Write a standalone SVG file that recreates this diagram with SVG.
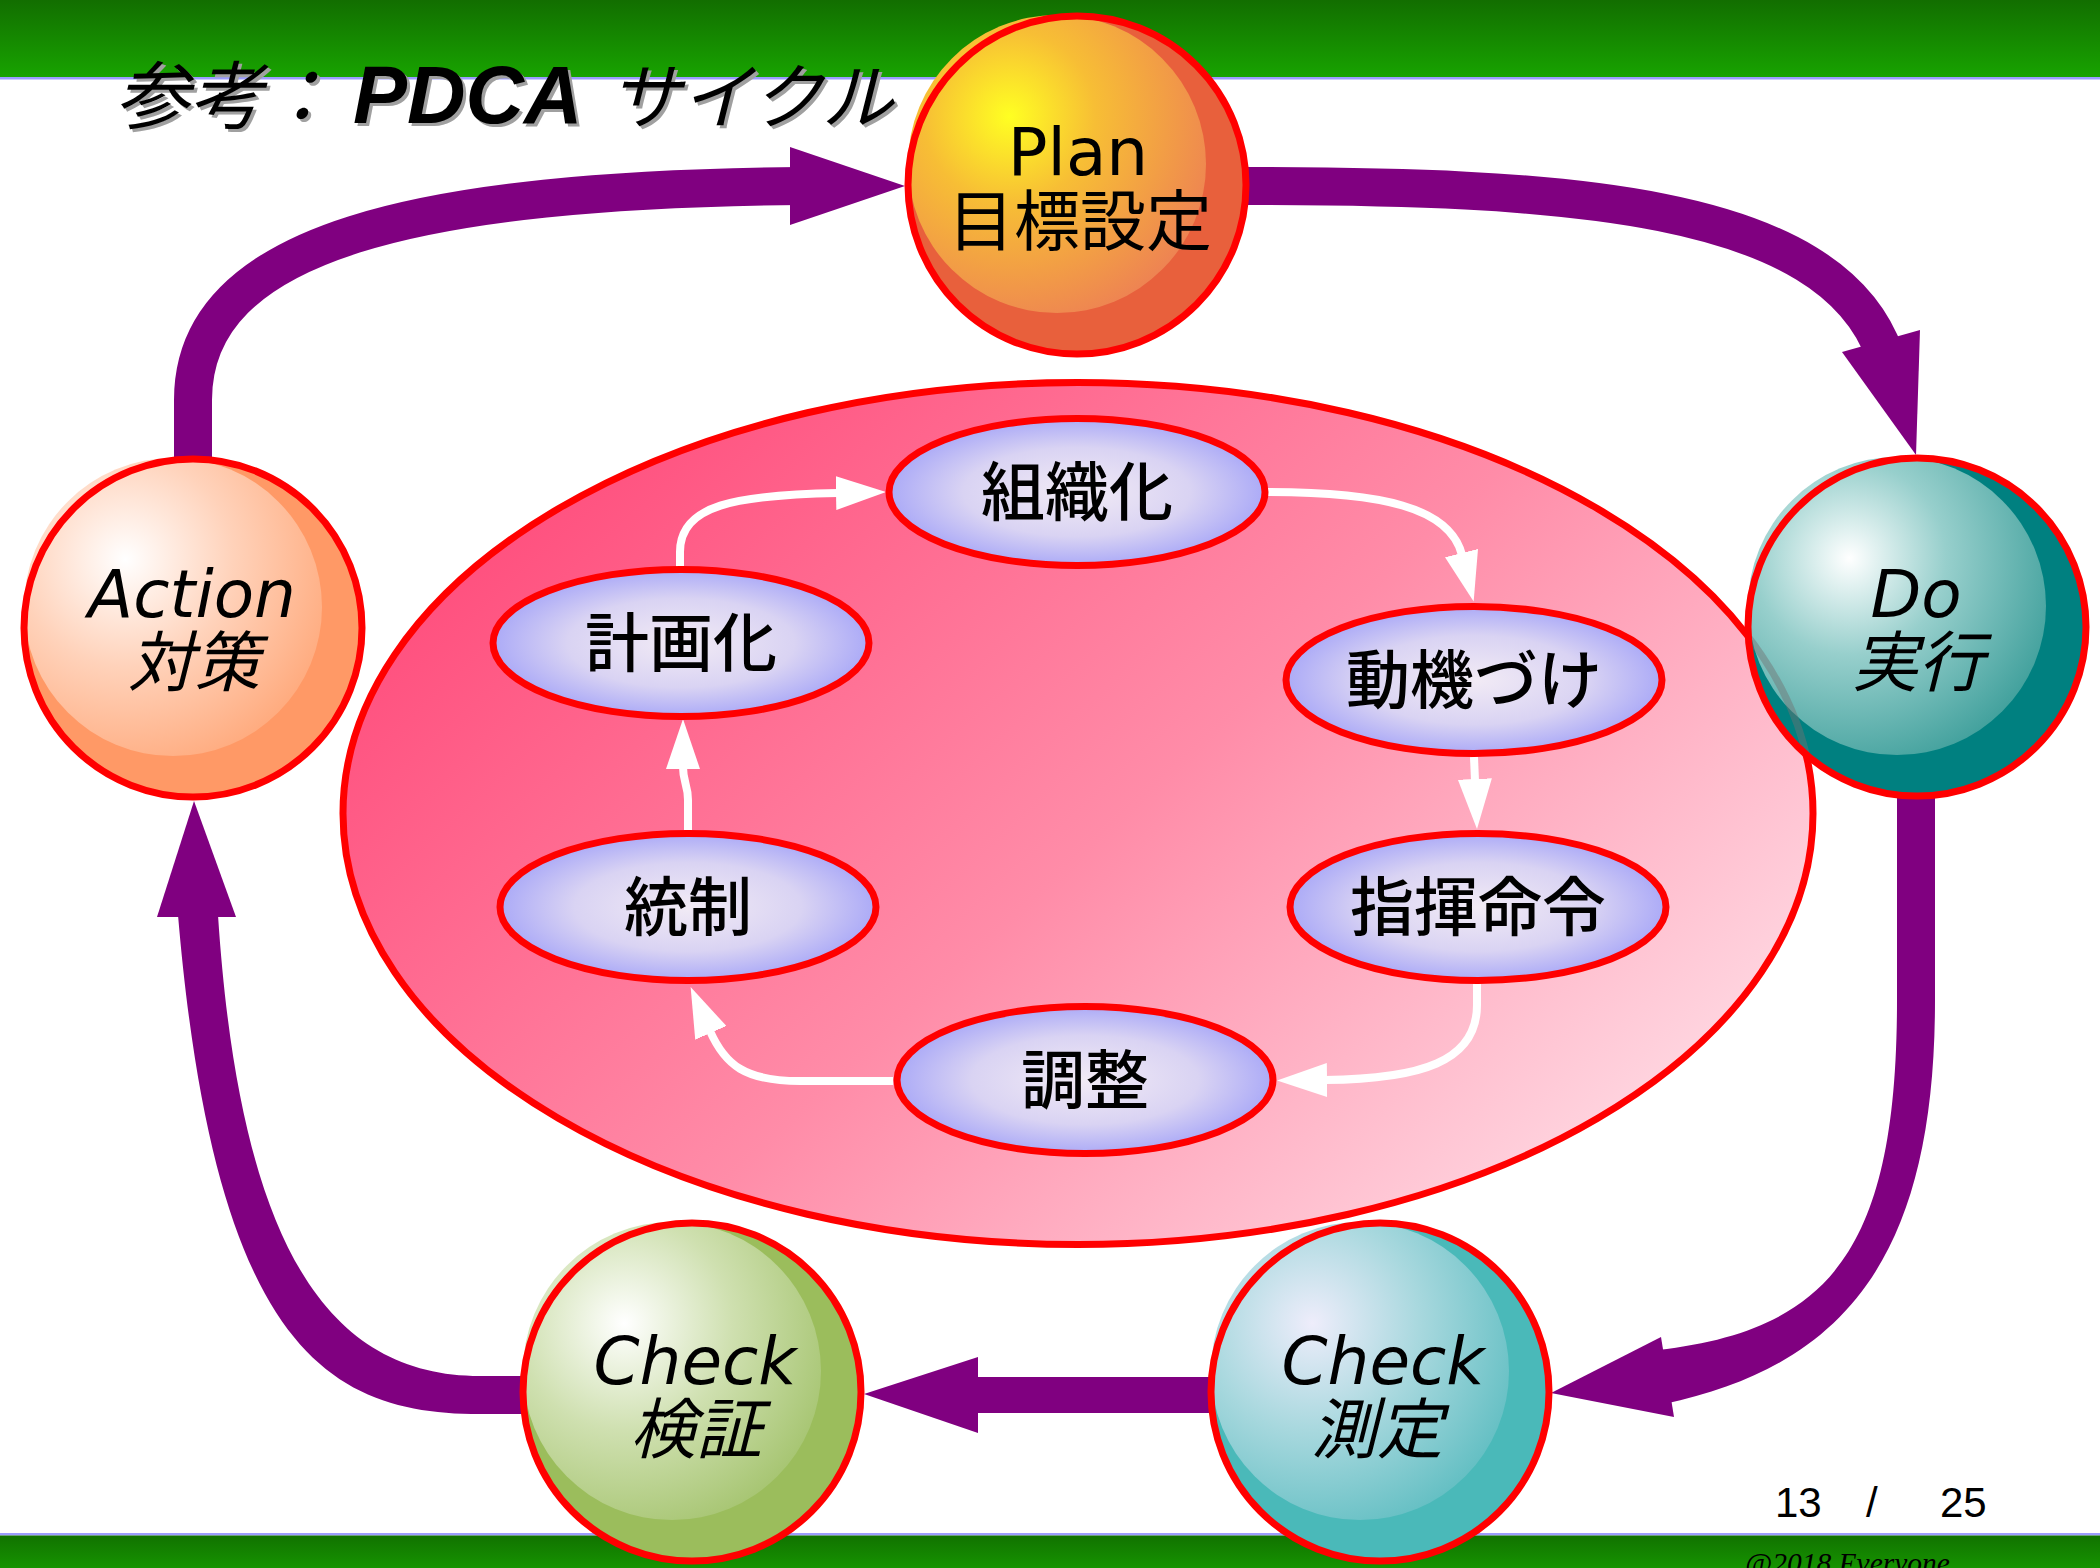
<svg xmlns="http://www.w3.org/2000/svg" width="2100" height="1568" viewBox="0 0 2100 1568">
<defs>
<linearGradient id="bandTop" x1="0" y1="0" x2="0" y2="1"><stop offset="0" stop-color="#126E00"/><stop offset="1" stop-color="#18A300"/></linearGradient>
<linearGradient id="bandBot" x1="0" y1="0" x2="0" y2="1"><stop offset="0" stop-color="#117200"/><stop offset="1" stop-color="#169400"/></linearGradient>
<linearGradient id="pinkG" x1="0.03" y1="0.25" x2="0.97" y2="0.85"><stop offset="0" stop-color="#FF4E7D"/><stop offset="0.5" stop-color="#FF8CA8"/><stop offset="1" stop-color="#FFE0E8"/></linearGradient>
<radialGradient id="ellG" cx="0.5" cy="0.5" r="0.55"><stop offset="0" stop-color="#F2EBF5"/><stop offset="0.55" stop-color="#D9D3F3"/><stop offset="1" stop-color="#A0A0F8"/></radialGradient>
<radialGradient id="hlPlan" cx="0.34" cy="0.34" r="0.72"><stop offset="0" stop-color="#FFFF22"/><stop offset="0.4" stop-color="#F7BE35"/><stop offset="1" stop-color="#EE8452"/></radialGradient>
<radialGradient id="hlDo" cx="0.34" cy="0.34" r="0.72"><stop offset="0" stop-color="#FFFFFF"/><stop offset="0.45" stop-color="#97CFCC"/><stop offset="1" stop-color="#44A29E"/></radialGradient>
<radialGradient id="hlAct" cx="0.34" cy="0.34" r="0.72"><stop offset="0" stop-color="#FFFFFF"/><stop offset="0.5" stop-color="#FFD2BA"/><stop offset="1" stop-color="#FFAC80"/></radialGradient>
<radialGradient id="hlChk1" cx="0.34" cy="0.34" r="0.72"><stop offset="0" stop-color="#FFFFFF"/><stop offset="0.5" stop-color="#CFE0B0"/><stop offset="1" stop-color="#A8C674"/></radialGradient>
<radialGradient id="hlChk2" cx="0.34" cy="0.34" r="0.72"><stop offset="0" stop-color="#EEEDFB"/><stop offset="0.5" stop-color="#A8D8DE"/><stop offset="1" stop-color="#66C0C4"/></radialGradient>
<marker id="wArrow" viewBox="0 0 50 34" markerWidth="50" markerHeight="34" refX="2" refY="17" orient="auto" markerUnits="userSpaceOnUse"><path d="M0,0 L50,17 L0,34 Z" fill="#FFFFFF"/></marker>
<clipPath id="doClip"><circle cx="1917" cy="627" r="166"/></clipPath>
</defs>
<style>
.ring{fill:none;stroke:#FF0000;stroke-width:7}
.ell{fill:url(#ellG);stroke:#FF0000;stroke-width:7}
.en{font-family:"DejaVu Sans",sans-serif;font-size:66px;text-anchor:middle;fill:#000}
.jp{font-family:"Noto Sans CJK JP",sans-serif;font-size:66px;text-anchor:middle;fill:#000}
.it{font-style:italic}
.el{font-family:"Noto Sans CJK JP",sans-serif;font-size:64px;font-weight:500;text-anchor:middle;fill:#000}
.wc{fill:none;stroke:#FFFFFF;stroke-width:8;marker-end:url(#wArrow)}
.pu{fill:#800080}
.ps{fill:none;stroke:#800080;stroke-width:38}
</style>
<rect x="0" y="0" width="2100" height="1568" fill="#FFFFFF"/>
<g id="bands">
<rect x="0" y="0" width="2100" height="77" fill="url(#bandTop)"/>
<rect x="0" y="77" width="2100" height="2.5" fill="#9C9CFF"/>
<rect x="0" y="1533" width="2100" height="2.5" fill="#9C9CFF"/>
<rect x="0" y="1535.5" width="2100" height="33" fill="url(#bandBot)"/>
</g>
<g id="title">
<text transform="translate(3,3)" fill="#A0A0A0" font-style="italic"><tspan x="115" y="123" font-family="Noto Sans CJK JP, sans-serif" font-size="74">参考：</tspan><tspan x="353" y="123" font-family="Liberation Sans, sans-serif" font-weight="bold" font-size="81">PDCA</tspan><tspan x="609" y="123" font-family="Noto Sans CJK JP, sans-serif" font-size="72">サイクル</tspan></text>
<text fill="#000" font-style="italic"><tspan x="115" y="123" font-family="Noto Sans CJK JP, sans-serif" font-size="74">参考：</tspan><tspan x="353" y="123" font-family="Liberation Sans, sans-serif" font-weight="bold" font-size="81">PDCA</tspan><tspan x="609" y="123" font-family="Noto Sans CJK JP, sans-serif" font-size="72">サイクル</tspan></text>
</g>
<g id="footer">
<text font-family="Liberation Sans, sans-serif" font-size="42" fill="#000"><tspan x="1775" y="1517">13</tspan><tspan x="1866" y="1517">/</tspan><tspan x="1940" y="1517">25</tspan></text>
<text x="1745" y="1573" font-family="Liberation Serif, serif" font-style="italic" font-size="29.5" fill="#000">@2018 Everyone</text>
</g>
<g id="node-management">
<ellipse cx="1078" cy="813.5" rx="735" ry="431" fill="url(#pinkG)" stroke="#FF0000" stroke-width="7"/>
</g>
<g id="inner-connectors">
<path class="wc" d="M680,569 L680,552 C680,505 735,495 838,493"/>
<path class="wc" d="M1267,492 C1380,492 1450,507 1462,555"/>
<path class="wc" d="M1474,757 L1475,781"/>
<path class="wc" d="M1477,984 L1477,1005 C1477,1062 1420,1079 1325,1080"/>
<path class="wc" d="M893,1081 L800,1081 C745,1081 725,1065 710,1031"/>
<path class="wc" d="M688,830 L688,800 C688,785 683,782 683,767"/>
</g>
<g id="node-soshikika"><ellipse class="ell" cx="1077" cy="492" rx="188" ry="73.5"/><text class="el" x="1077" y="515">組織化</text></g>
<g id="node-keikakuka"><ellipse class="ell" cx="681" cy="643" rx="188" ry="73.5"/><text class="el" x="681" y="666">計画化</text></g>
<g id="node-doukizuke"><ellipse class="ell" cx="1474" cy="680" rx="188" ry="73.5"/><text class="el" x="1474" y="703">動機づけ</text></g>
<g id="node-shikimeirei"><ellipse class="ell" cx="1478" cy="907" rx="188" ry="73.5"/><text class="el" x="1478" y="930">指揮命令</text></g>
<g id="node-tousei"><ellipse class="ell" cx="688" cy="907" rx="188" ry="73.5"/><text class="el" x="688" y="930">統制</text></g>
<g id="node-chousei"><ellipse class="ell" cx="1085" cy="1080" rx="188" ry="73.5"/><text class="el" x="1085" y="1103">調整</text></g>
<g id="connectors">
<path class="ps" d="M193,470 L193,400 C193,240 420,190 800,186"/>
<polygon class="pu" points="790,147 790,225 905,186"/>
<path class="ps" d="M1235,186 C1560,186 1830,200 1885,355"/>
<polygon class="pu" points="1842,352 1920,330 1916,455"/>
<path class="pu" d="M1897,780 L1935,780 L1935,1000 C1935,1250 1850,1365 1664,1404 L1658,1350 C1830,1330 1897,1250 1897,1000 Z"/>
<polygon class="pu" points="1661,1337 1674,1417 1551,1393"/>
<rect class="pu" x="975" y="1377" width="240" height="36"/>
<polygon class="pu" points="978,1357 978,1433 864,1394"/>
<path class="pu" d="M530,1414 L480,1414 C330,1414 215,1350 178,915 L218,915 C240,1250 330,1376 480,1376 L530,1376 Z"/>
<polygon class="pu" points="157,917 236,917 194,801"/>
</g>
<g id="node-plan">
<circle cx="1077" cy="185" r="169" fill="#E8603C"/>
<circle cx="1057" cy="164" r="149" fill="url(#hlPlan)"/>
<circle class="ring" cx="1077" cy="185" r="169"/>
<text class="en" x="1078" y="175" font-size="62">Plan</text>
<text class="jp" x="1080" y="245" font-size="63">目標設定</text>
</g>
<g id="node-do">
<circle cx="1917" cy="627" r="169" fill="#008080"/>
<circle cx="1897" cy="606" r="149" fill="url(#hlDo)"/>
<ellipse cx="1078" cy="813.5" rx="735" ry="431" fill="none" stroke="#707070" stroke-opacity="0.45" stroke-width="7" clip-path="url(#doClip)"/>
<circle class="ring" cx="1917" cy="627" r="169"/>
<text class="en it" x="1916" y="617">Do</text>
<text class="jp it" x="1918" y="686">実行</text>
</g>
<g id="node-action">
<circle cx="193" cy="628" r="169" fill="#FF9966"/>
<circle cx="173" cy="607" r="149" fill="url(#hlAct)"/>
<circle class="ring" cx="193" cy="628" r="169"/>
<text class="en it" x="192" y="617" font-size="68">Action</text>
<text class="jp it" x="194" y="686">対策</text>
</g>
<g id="node-check-kensho">
<circle cx="692" cy="1392" r="169" fill="#9BBD5C"/>
<circle cx="672" cy="1371" r="149" fill="url(#hlChk1)"/>
<circle class="ring" cx="692" cy="1392" r="169"/>
<text class="en it" x="695" y="1384">Check</text>
<text class="jp it" x="696" y="1453">検証</text>
</g>
<g id="node-check-sokutei">
<circle cx="1380" cy="1392" r="169" fill="#4AB9B9"/>
<circle cx="1360" cy="1371" r="149" fill="url(#hlChk2)"/>
<circle class="ring" cx="1380" cy="1392" r="169"/>
<text class="en it" x="1383" y="1384">Check</text>
<text class="jp it" x="1377" y="1453">測定</text>
</g>
</svg>
